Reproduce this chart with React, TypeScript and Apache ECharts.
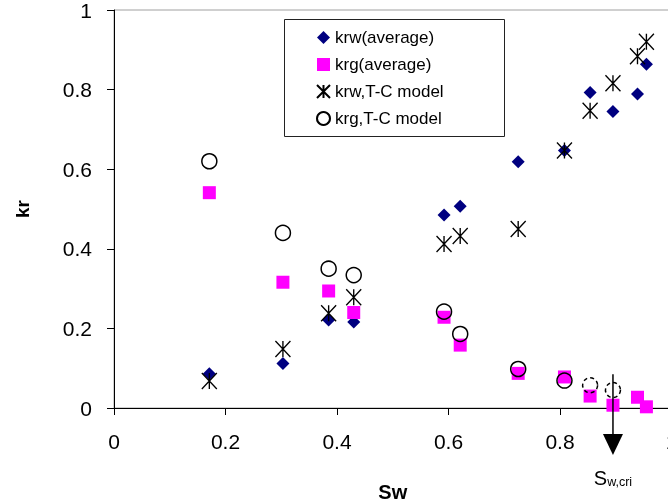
import React, { useEffect, useRef } from "react";
import * as echarts from "echarts";

// Water saturation of each averaged measurement
const swAvg = [0.171, 0.303, 0.385, 0.43, 0.592, 0.621, 0.725, 0.808, 0.854, 0.895, 0.939, 0.955];
const krwAvg = [0.086, 0.112, 0.221, 0.216, 0.485, 0.507, 0.619, 0.647, 0.793, 0.745, 0.789, 0.864];
const krgAvg = [0.541, 0.316, 0.294, 0.24, 0.228, 0.158, 0.087, 0.078, 0.03, 0.007, 0.027, 0.003];

// T-C model
const swModel = [0.171, 0.303, 0.385, 0.43, 0.592, 0.621, 0.725, 0.808, 0.854, 0.895, 0.939, 0.955];
const krwModel = [0.068, 0.148, 0.238, 0.278, 0.412, 0.432, 0.45, 0.647, 0.747, 0.816, 0.884, 0.92];
const swModelG = [0.171, 0.303, 0.385, 0.43, 0.592, 0.621, 0.725, 0.808, 0.854, 0.895];
const krgModel = [0.62, 0.44, 0.35, 0.334, 0.242, 0.186, 0.098, 0.069, 0.057, 0.045];
const krgModelDashed = [false, false, false, false, false, false, false, false, true, true];

const seriesNames = ["krw(average)", "krg(average)", "krw,T-C model", "krg,T-C model"];
const yTicks = [0, 0.2, 0.4, 0.6, 0.8, 1];
const xTicks = [0, 0.2, 0.4, 0.6, 0.8, 1];

const swCri = 0.895;
const arrowTopKr = 0.085;

const FONT = 'Arial, "Liberation Sans", sans-serif';
const ASTERISK = "path://M0,0L10,10M10,0L0,10M5,0L5,10";

export default function App() {
  const ref = useRef<HTMLDivElement>(null);
  useEffect(() => {
    const chart = echarts.init(ref.current!, null, { renderer: "svg" });
    chart.setOption({
      animation: false,
      textStyle: { fontFamily: FONT },
      grid: {
        left: 114,
        top: 10,
        right: -3.5,
        bottom: 96,
        containLabel: false,
        outerBoundsMode: "none",
        show: true,
        borderColor: "#a0a0a0",
        borderWidth: 1,
        backgroundColor: "transparent",
      },
      xAxis: {
        type: "value",
        min: xTicks[0],
        max: xTicks[xTicks.length - 1],
        interval: 0.2,
        name: "Sw",
        nameLocation: "middle",
        nameGap: 74,
        nameTextStyle: { fontSize: 20, fontWeight: "bold", color: "#000", fontFamily: FONT },
        axisLine: { onZero: false, lineStyle: { color: "#000", width: 1 } },
        axisTick: { show: true, length: 7, lineStyle: { color: "#000" } },
        axisLabel: { fontSize: 21, color: "#000", margin: 23, fontFamily: FONT },
        splitLine: { show: false },
      },
      yAxis: {
        type: "value",
        min: yTicks[0],
        max: yTicks[yTicks.length - 1],
        interval: 0.2,
        name: "kr",
        nameLocation: "middle",
        nameRotate: 90,
        nameGap: 82,
        nameTextStyle: { fontSize: 19, fontWeight: "bold", color: "#000", fontFamily: FONT },
        axisLine: { show: true, lineStyle: { color: "#000", width: 1 } },
        axisTick: { show: true, length: 7, lineStyle: { color: "#000" } },
        axisLabel: { fontSize: 21, color: "#000", margin: 22, fontFamily: FONT },
        splitLine: { show: false },
      },
      legend: {
        orient: "vertical",
        left: 316,
        top: 29,
        padding: 0,
        itemWidth: 13,
        itemHeight: 13,
        itemGap: 10,
        data: seriesNames,
        textStyle: { fontSize: 17, color: "#000", fontFamily: FONT },
      },
      series: [
        {
          name: seriesNames[0],
          type: "scatter",
          symbol: "diamond",
          symbolSize: 13,
          itemStyle: { color: "#000080", opacity: 1 },
          data: swAvg.map((x, i) => [x, krwAvg[i]]),
        },
        {
          name: seriesNames[1],
          type: "scatter",
          symbol: "rect",
          symbolSize: 13,
          itemStyle: { color: "#ff00ff", opacity: 1 },
          data: swAvg.map((x, i) => [x, krgAvg[i]]),
        },
        {
          name: seriesNames[2],
          type: "scatter",
          symbol: ASTERISK,
          symbolSize: [15, 16],
          itemStyle: { color: "#000", borderColor: "#000", borderWidth: 1.4, opacity: 1 },
          data: swModel.map((x, i) => [x, krwModel[i]]),
        },
        {
          name: seriesNames[3],
          type: "scatter",
          symbol: "circle",
          symbolSize: 15,
          itemStyle: { color: "rgba(255,255,255,0)", borderColor: "#000", borderWidth: 1.5, opacity: 1 },
          data: swModelG.map((x, i) => ({
            value: [x, krgModel[i]],
            itemStyle: krgModelDashed[i] ? { borderType: [4, 3] } : undefined,
          })),
        },
      ],
    });

    const top = chart.convertToPixel({ gridIndex: 0 }, [swCri, arrowTopKr]) as number[];
    const base = chart.convertToPixel({ gridIndex: 0 }, [swCri, 0]) as number[];
    const ax = top[0];
    const headTop = base[1] + 26;
    const headTip = base[1] + 47;
    chart.setOption({
      graphic: [
        {
          type: "rect",
          shape: { x: 284.5, y: 19.5, width: 220, height: 117 },
          style: { fill: "none", stroke: "#222", lineWidth: 1 },
          z: 10,
        },
        {
          type: "line",
          shape: { x1: ax, y1: top[1], x2: ax, y2: headTop + 2 },
          style: { stroke: "#000", lineWidth: 1.5 },
          z: 20,
        },
        {
          type: "polygon",
          shape: { points: [[ax - 10, headTop], [ax + 10, headTop], [ax, headTip]] },
          style: { fill: "#000" },
          z: 20,
        },
        {
          type: "text",
          x: ax,
          y: base[1] + 70,
          style: {
            text: "{s|S}{sub|w,cri}",
            align: "center",
            verticalAlign: "middle",
            textAlign: "center",
            textVerticalAlign: "middle",
            fill: "#000",
            rich: {
              s: { fontSize: 20, fontFamily: FONT, fill: "#000", color: "#000", verticalAlign: "bottom" },
              sub: { fontSize: 12.5, fontFamily: FONT, fill: "#000", color: "#000", verticalAlign: "bottom" },
            },
          },
          z: 20,
        },
      ],
    });
    return () => chart.dispose();
  }, []);
  return <div ref={ref} style={{ position: "fixed", left: 0, top: 0, width: 668, height: 504 }} />;
}
